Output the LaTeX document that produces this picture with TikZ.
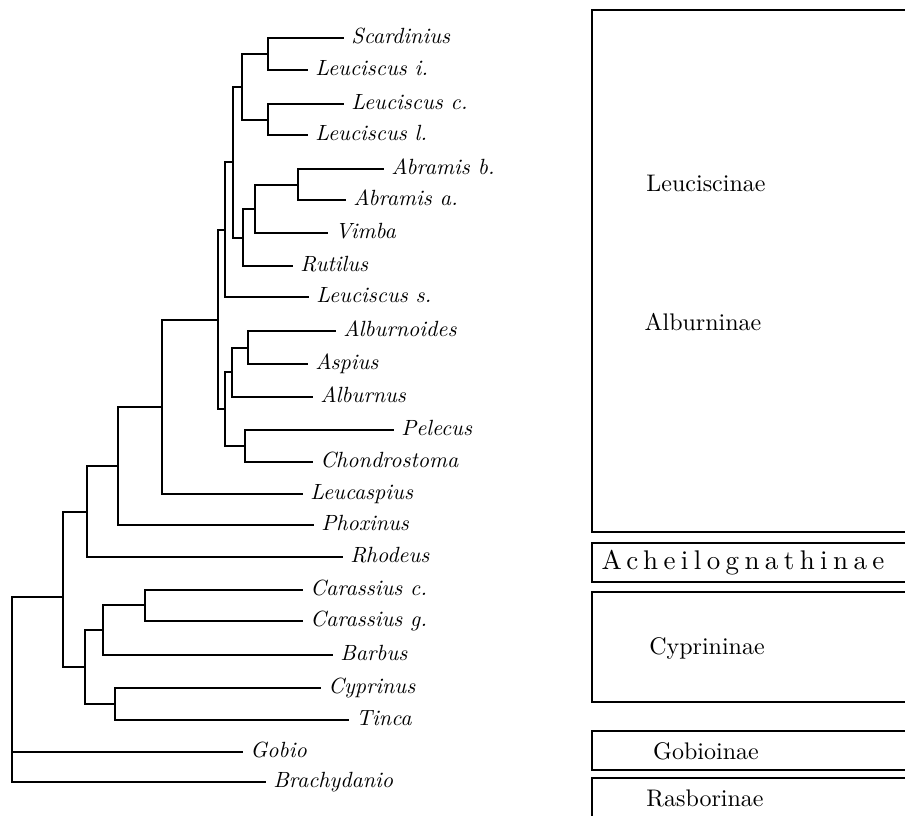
\documentclass[tikz,border=0pt]{standalone}
\usepackage{fontspec}
\setmainfont{lmroman10-regular.otf}[ItalicFont=lmroman10-italic.otf]
\newfontfamily\spreadfont{lmroman10-regular.otf}[LetterSpace=20]

\begin{document}
\begin{tikzpicture}[x=0.5pt, y=-0.5pt,
        branch/.style={line width=0.8pt, line cap=rect},
        leaf/.style={anchor=west, inner sep=4pt, text height=8pt, text depth=2.3pt,
            font=\fontsize{11}{13}\selectfont\itshape},
        taxbox/.style={line width=0.8pt},
        taxname/.style={font=\fontsize{12}{14}\selectfont}]
        \useasboundingbox (0,0) rectangle (905,815);
        % Leaves
        \foreach \nm/\x/\y/\txt in {scard/343/38/Scardinius, leuci/307/70/Leuciscus i.,
                leucc/343/104/Leuciscus c., leucl/307/135/Leuciscus l., abrb/383/169/Abramis b.,
                abra/345/200/Abramis a., vimba/327/233/Vimba, rutil/292/266/Rutilus,
                leucs/308/297/Leuciscus s., albnd/335/331/Alburnoides, aspius/307/364/Aspius,
                albur/312/397/Alburnus, pelec/393/430/Pelecus, chond/312/462/Chondrostoma,
                leucas/302/494/Leucaspius, phox/313/525/Phoxinus, rhod/342/557/Rhodeus,
                carc/302/590/Carassius c., carg/302/621/Carassius g., barb/332/655/Barbus,
                cypr/320/688/Cyprinus, tinca/348/720/Tinca, gobio/242/752/Gobio,
                brach/265/782/Brachydanio} {
            \node[leaf] (\nm) at (\x,\y) {\txt};
        }
        % Inner nodes of the tree
        \foreach \nm/\x/\y in {nA/268/54, nB/268/120, nC/242/87, nD/298/185, nE/255/209,
                nF/243/238, nG/233/162, nH/225/230, nI/248/348, nJ/232/372, nK/245/446,
                nL/225/409, nM/218/320, nN/162/407, nO/118/466, nP/87/512, nQ/145/605,
                nR/103/630, nS/115/704, nT/85/667, nU/63/597, root/12/686} {
            \coordinate (\nm) at (\x,\y);
        }
        % Branches
        \foreach \p/\c in {nA/scard, nA/leuci, nB/leucc, nB/leucl, nC/nA, nC/nB,
                nD/abrb, nD/abra, nE/nD, nE/vimba, nF/nE, nF/rutil, nG/nC, nG/nF,
                nH/nG, nH/leucs, nI/albnd, nI/aspius, nJ/nI, nJ/albur, nK/pelec, nK/chond,
                nL/nJ, nL/nK, nM/nH, nM/nL, nN/nM, nN/leucas, nO/nN, nO/phox,
                nP/nO, nP/rhod, nQ/carc, nQ/carg, nR/nQ, nR/barb, nS/cypr, nS/tinca,
                nT/nR, nT/nS, nU/nP, nU/nT, root/nU, root/gobio, root/brach} {
            \draw[branch] (\p) |- (\c);
        }
        % Subfamily boxes (open on the right)
        \foreach \top/\bot in {10/532, 543/582, 592/702, 731/770, 778/818} {
            \draw[taxbox] (905,\top) -- (592,\top) -- (592,\bot) -- (905,\bot);
        }
        % Subfamily names
        \node[taxname] (leucsub) at (706,183) {Leuciscinae};
        \node[taxname] (albsub) at (703,322) {Alburninae};
        \node[taxname, font=\fontsize{13.5}{15}\selectfont\spreadfont]
            (achsub) at (743,563) {Acheilognathinae};
        \node[taxname] (cypsub) at (707,648) {Cyprininae};
        \node[taxname] (gobsub) at (706,751) {Gobioinae};
        \node[taxname] (rassub) at (705,798) {Rasborinae};
\end{tikzpicture}
\end{document}
